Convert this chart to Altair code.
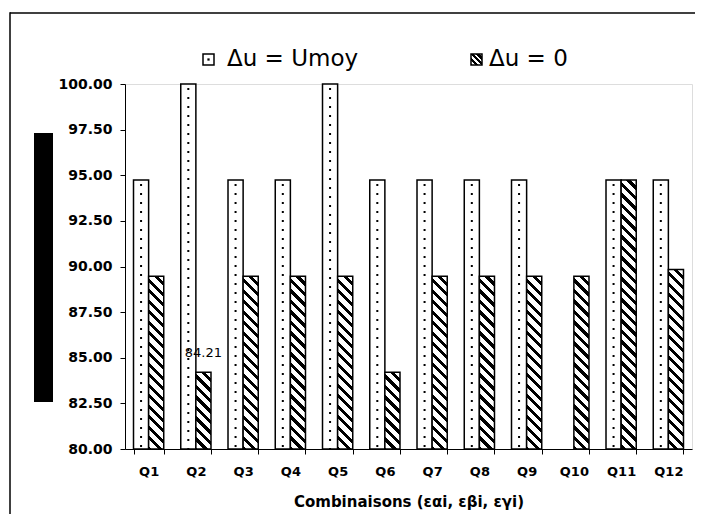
import altair as alt
import pandas as pd

# ---------------- data ----------------
categories = ["Q1", "Q2", "Q3", "Q4", "Q5", "Q6", "Q7", "Q8", "Q9", "Q10", "Q11", "Q12"]
series_names = ["Δu = Umoy", "Δu = 0"]
umoy_values = [94.74, 100.0, 94.74, 94.74, 100.0, 94.74, 94.74, 94.74, 94.74, None, 94.74, 94.74]
zero_values = [89.47, 84.21, 89.47, 89.47, 89.47, 84.21, 89.47, 89.47, 89.47, 89.47, 94.74, 89.84]
y_ticks = [80.0, 82.5, 85.0, 87.5, 90.0, 92.5, 95.0, 97.5, 100.0]
labelled = ["Q2"]  # category whose "Δu = 0" bar carries a value label
x_title = "Combinaisons (εαi, εβi, εγi)"

rows = []
for c, u, z in zip(categories, umoy_values, zero_values):
    rows.append({"cat": c, "serie": series_names[0], "value": u})
    rows.append({"cat": c, "serie": series_names[1], "value": z})
df = pd.DataFrame(rows)
one = pd.DataFrame({"k": [0]})
one_top = pd.DataFrame({"edge": ["top"]})

# ---------------- layout ----------------
W, H = 567, 365
Y_MIN, Y_MAX = y_ticks[0], y_ticks[-1]
P_IN, P_OUT = 0.36, 0.18
FONT = "DejaVu Sans"
step = W / (len(categories) - P_IN + 2 * P_OUT)
bar_w = step * (1 - P_IN) / 2


def hatch(w, h, period=10.5, black=0.42):
    k = w / h
    s = (1 + k) / (1 + k * k)
    n = h * (1 + k) / period
    dt = 1.0 / n
    stops = []
    t = 0.0
    while t < 1.0 - 1e-9:
        a = min(t + dt * (1 - black), 1.0)
        b = min(t + dt, 1.0)
        stops += [(t, "white"), (a, "white"), (a, "black"), (b, "black")]
        t = b
    return alt.Gradient(
        gradient="linear", x1=1, y1=0, x2=1 - k * s, y2=s,
        stops=[alt.GradientStop(offset=round(o, 5), color=c) for o, c in stops],
    )


x_enc = alt.X(
    "cat:N", sort=categories,
    scale=alt.Scale(domain=categories, paddingInner=P_IN, paddingOuter=P_OUT),
    axis=alt.Axis(
        title=x_title, labelAngle=0, tickBand="extent", tickSize=5,
        tickColor="black", domainColor="black", labelColor="black",
        labelFont=FONT, labelFontSize=13, labelFontWeight="bold", labelPadding=11,
        titleFont=FONT, titleFontSize=15, titleFontWeight="bold", titleColor="black",
        titlePadding=16,
    ),
)
y_enc = alt.Y(
    "value:Q",
    scale=alt.Scale(domain=[Y_MIN, Y_MAX], zero=False, nice=False),
    axis=alt.Axis(
        title=None, values=y_ticks, format=".2f", grid=False, tickSize=5,
        tickColor="black", domainColor="black", labelColor="black",
        labelFont=FONT, labelFontSize=14, labelFontWeight="bold", labelPadding=8,
    ),
)
xo_enc = alt.XOffset("serie:N", scale=alt.Scale(domain=series_names))

base = alt.Chart(df).encode(x=x_enc, xOffset=xo_enc, y=y_enc)

umoy = base.transform_filter(alt.FieldEqualPredicate(field="serie", equal=series_names[0])).transform_filter(
    "isValid(datum.value)")

umoy_bars = umoy.mark_bar(fill="white", stroke="black", strokeWidth=1.5).encode(y2=alt.datum(Y_MIN))
umoy_dots = umoy.mark_rule(color="black", strokeWidth=2, strokeDash=[2, 7], strokeDashOffset=-4).encode(
    y2=alt.datum(Y_MIN))

zero_layers = []
for v in sorted(set(zero_values)):
    h = (v - Y_MIN) / (Y_MAX - Y_MIN) * H
    zero_layers.append(
        base.transform_filter(alt.FieldEqualPredicate(field="serie", equal=series_names[1]))
        .transform_filter(alt.FieldEqualPredicate(field="value", equal=v))
        .mark_bar(fill=hatch(bar_w, h), stroke="black", strokeWidth=1.5)
        .encode(y2=alt.datum(Y_MIN))
    )

value_label = (
    base.transform_filter(alt.FieldEqualPredicate(field="serie", equal=series_names[1]))
    .transform_filter(alt.FieldOneOfPredicate(field="cat", oneOf=labelled))
    .mark_text(font=FONT, fontSize=13, color="black", dy=-15, baseline="alphabetic")
    .encode(text=alt.Text("value:Q", format=".2f"))
)

# ---------------- decorations: frame (top/left), dark band, legend ----------------
frame_top = alt.Chart(one_top).mark_rule(color="black", strokeWidth=1.5).encode(
    x=alt.value(-115), x2=alt.value(570), y=alt.value(-71), y2=alt.value(-71))
frame_left = alt.Chart(one).mark_rect(color="black").encode(
    x=alt.value(-115.75), x2=alt.value(-114.25), y=alt.value(-71.75), y2=alt.value(430))
dark_band = alt.Chart(one).mark_rect(color="black").encode(
    x=alt.value(-91), x2=alt.value(-72), y=alt.value(49), y2=alt.value(318))

leg1_box = alt.Chart(one).mark_rect(fill="white", stroke="black", strokeWidth=1.5).encode(
    x=alt.value(78), x2=alt.value(89), y=alt.value(-30), y2=alt.value(-19))
leg1_dot = alt.Chart(one).mark_square(color="black", size=5, opacity=1).encode(
    x=alt.value(83.5), y=alt.value(-24.5))
leg1_txt = alt.Chart(one).mark_text(font=FONT, fontSize=23, color="black", align="left",
                                    baseline="alphabetic").encode(
    x=alt.value(102), y=alt.value(-18), text=alt.value(series_names[0]))
leg2_box = alt.Chart(one).mark_rect(fill=hatch(11, 11, period=6, black=0.55), stroke="black",
                                    strokeWidth=1.5).encode(
    x=alt.value(346), x2=alt.value(357), y=alt.value(-30), y2=alt.value(-19))
leg2_txt = alt.Chart(one).mark_text(font=FONT, fontSize=23, color="black", align="left",
                                    baseline="alphabetic").encode(
    x=alt.value(364), y=alt.value(-18), text=alt.value(series_names[1]))

chart = alt.layer(
    frame_top, frame_left, dark_band,
    umoy_bars, umoy_dots, *zero_layers, value_label,
    leg1_box, leg1_dot, leg1_txt, leg2_box, leg2_txt,
).properties(
    width=W, height=H,
    padding={"left": 117, "top": 76, "right": 4, "bottom": 70},
    autosize=alt.AutoSizeParams(type="none"),
).configure_view(stroke="black", strokeWidth=1).configure(background="white")

chart.save("out.html", embed_options={"renderer": "svg", "actions": False})
